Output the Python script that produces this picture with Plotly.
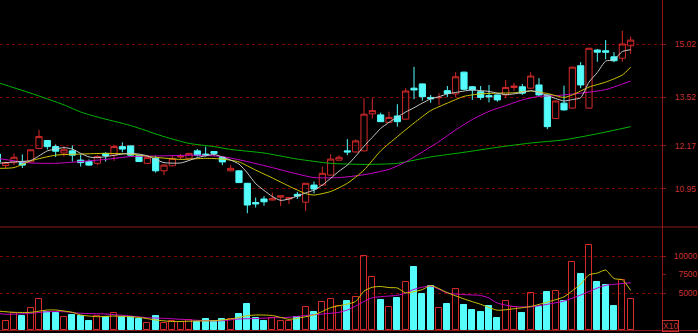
import plotly.graph_objects as go

# ---------------- data ----------------
opens = [11.93, 11.61, 11.69, 11.72, 11.71, 12.09, 12.31, 12.14, 11.96, 12.02,
         11.76, 11.72, 11.67, 11.95, 11.90, 12.14, 12.16, 11.89, 11.67, 11.81,
         11.46, 11.60, 11.85, 11.81, 12.02, 11.93, 12.00, 11.84, 11.46, 11.46,
         11.11, 10.57, 10.67, 10.64, 10.72, 10.67, 10.80, 10.58, 11.06, 11.06,
         11.34, 11.76, 12.02, 11.99, 12.02, 13.06, 13.03, 12.82, 13.00, 12.91,
         13.78, 13.90, 13.52, 13.51, 13.71, 13.62, 14.23, 13.82, 13.68, 13.57,
         13.59, 13.59, 13.80, 13.82, 13.78, 13.87, 13.59, 12.93, 13.36, 13.22,
         14.41, 13.22, 14.85, 14.83, 14.66, 14.62, 14.97]
highs = [11.99, 11.72, 11.95, 11.92, 12.06, 12.61, 12.32, 12.20, 12.16, 12.17,
         11.92, 11.78, 11.90, 11.98, 12.19, 12.26, 12.17, 11.90, 11.85, 11.89,
         11.65, 11.88, 11.93, 11.96, 12.07, 12.14, 12.01, 11.85, 11.62, 11.47,
         11.12, 10.71, 10.75, 10.85, 10.77, 10.72, 10.87, 11.12, 11.16, 11.58,
         11.93, 11.90, 12.35, 12.34, 13.50, 13.50, 13.09, 13.12, 13.33, 13.78,
         14.38, 13.91, 13.59, 13.64, 13.84, 14.23, 14.24, 13.84, 13.84, 13.87,
         13.60, 14.01, 13.93, 13.90, 14.23, 14.06, 13.60, 13.43, 13.85, 14.38,
         14.51, 14.91, 14.88, 15.13, 14.79, 15.39, 15.23]
lows = [11.65, 11.54, 11.62, 11.54, 11.69, 12.07, 12.06, 11.85, 11.86, 11.72,
        11.58, 11.60, 11.62, 11.72, 11.74, 11.98, 11.88, 11.71, 11.65, 11.41,
        11.34, 11.59, 11.78, 11.80, 11.86, 11.86, 11.88, 11.62, 11.45, 11.12,
        10.27, 10.43, 10.48, 10.63, 10.47, 10.53, 10.67, 10.33, 10.83, 11.05,
        11.33, 11.75, 11.90, 11.97, 12.01, 12.93, 12.83, 12.81, 12.70, 12.90,
        13.47, 13.43, 13.37, 13.31, 13.53, 13.52, 13.73, 13.45, 13.45, 13.38,
        13.40, 13.50, 13.71, 13.59, 13.76, 13.56, 12.63, 12.92, 13.15, 13.21,
        13.78, 13.21, 14.52, 14.59, 14.51, 14.52, 14.74]
closes = [11.71, 11.69, 11.84, 11.62, 12.05, 12.42, 12.14, 12.01, 12.05, 11.90,
          11.69, 11.62, 11.86, 11.89, 12.14, 12.07, 11.90, 11.72, 11.83, 11.46,
          11.62, 11.81, 11.86, 11.95, 11.90, 11.89, 11.95, 11.71, 11.53, 11.13,
          10.50, 10.53, 10.59, 10.68, 10.76, 10.71, 10.75, 11.11, 10.95, 11.39,
          11.79, 11.84, 11.99, 12.30, 13.05, 13.15, 12.84, 12.96, 12.84, 13.70,
          13.73, 13.54, 13.48, 13.52, 13.63, 14.10, 13.75, 13.73, 13.52, 13.54,
          13.45, 13.80, 13.84, 13.64, 14.12, 13.59, 12.70, 13.42, 13.17, 14.37,
          13.87, 14.90, 14.79, 14.79, 14.55, 15.02, 15.13]
volumes = [2250, 1260, 2340, 1930, 2930, 4140, 2390, 2250, 1710, 2025,
           1930, 1260, 1930, 1800, 2250, 1800, 1710, 1440, 945, 1890,
           945, 1215, 1035, 1350, 1125, 1440, 1170, 1440, 1485, 2115,
           3510, 1575, 1260, 1665, 1260, 1260, 1710, 3105, 2390, 3735,
           4185, 3240, 3915, 4500, 10030, 7110, 4050, 3060, 4365, 6525,
           8460, 4905, 5985, 2925, 3465, 5535, 3330, 2655, 2475, 3240,
           1665, 3915, 3150, 2340, 5040, 3060, 5085, 5310, 3915, 9135,
           7560, 11430, 6435, 6075, 3240, 6750, 4140]

# moving-average lines (index, value)
ma5_idx = [0, 2, 4, 5, 6, 7, 8, 9, 10, 11, 12, 13, 15, 16, 17, 18, 19, 20, 22, 23,
           24, 26, 27, 28, 29, 30, 31, 32, 33, 34, 35, 36, 37, 38, 39, 40, 41, 42,
           43, 44, 45, 46, 47, 48, 49, 50, 51, 52, 53, 54, 55, 56, 57, 58, 59, 60,
           61, 62, 63, 64, 65, 66, 67, 68, 69, 70, 71, 72, 73, 74, 75, 76]
ma5_val = [11.67, 11.71, 11.75, 11.88, 12.02, 12.07, 12.11, 12.07, 11.95, 11.85,
           11.83, 11.86, 11.93, 11.95, 11.93, 11.88, 11.78, 11.69, 11.68, 11.75,
           11.83, 11.92, 11.85, 11.76, 11.65, 11.40, 11.10, 10.91, 10.74, 10.63,
           10.67, 10.75, 10.84, 10.92, 11.06, 11.25, 11.45, 11.62, 11.87, 12.15,
           12.40, 12.65, 12.82, 12.97, 13.11, 13.23, 13.36, 13.48, 13.54, 13.62,
           13.66, 13.70, 13.73, 13.71, 13.69, 13.64, 13.60, 13.62, 13.66, 13.71,
           13.66, 13.57, 13.49, 13.42, 13.46, 13.51, 13.95, 14.22, 14.54, 14.58,
           14.81, 14.86]
ma10_idx = [0, 2, 4, 7, 10, 13, 16, 19, 22, 25, 27, 29, 31, 33, 35, 37, 38, 40, 42,
            44, 46, 48, 50, 52, 54, 56, 58, 60, 62, 64, 66, 68, 69, 71, 73, 75, 76]
ma10_val = [11.53, 11.55, 11.74, 11.90, 11.93, 11.95, 11.93, 11.84, 11.78, 11.81,
            11.79, 11.71, 11.48, 11.26, 11.03, 10.82, 10.78, 10.88, 11.11, 11.48,
            12.02, 12.42, 12.80, 13.15, 13.36, 13.55, 13.62, 13.64, 13.65, 13.70,
            13.63, 13.52, 13.59, 13.81, 13.95, 14.15, 14.37]
ma20_idx = [0, 4, 7, 10, 13, 16, 20, 24, 27, 30, 33, 36, 38, 41, 44, 47, 49, 51,
            53, 55, 57, 59, 61, 63, 65, 67, 70, 73, 76]
ma20_val = [11.81, 11.68, 11.67, 11.72, 11.78, 11.86, 11.88, 11.90, 11.86, 11.72,
            11.55, 11.37, 11.27, 11.27, 11.35, 11.50, 11.71, 11.99, 12.28, 12.61,
            12.90, 13.13, 13.29, 13.45, 13.55, 13.57, 13.64, 13.74, 13.98]
ma60_idx = [0, 4, 8, 10, 12, 16, 20, 23, 26, 28, 32, 36, 40, 44, 48, 52, 56, 60,
            64, 68, 72, 76]
ma60_val = [13.94, 13.64, 13.31, 13.11, 12.97, 12.73, 12.42, 12.23, 12.14, 12.06,
            11.96, 11.79, 11.67, 11.64, 11.67, 11.85, 11.98, 12.12, 12.24, 12.33,
            12.50, 12.70]
vma5_idx = [0, 2, 4, 6, 7, 9, 10, 12, 14, 17, 19, 21, 24, 26, 28, 30, 31, 33, 35,
            36, 38, 39, 40, 42, 43, 44, 45, 46, 47, 48, 49, 51, 52, 54, 56, 58,
            60, 62, 64, 66, 68, 69, 70, 71, 72, 73, 74, 75, 76]
vma5_val = [2565, 2390, 2390, 2700, 2700, 2390, 2025, 1800, 1890, 1710, 1350, 1150,
            1215, 1255, 1485, 1930, 2025, 1960, 1450, 1580, 2050, 2500, 3030, 3500,
            3850, 5250, 5780, 5880, 5730, 5680, 5020, 5460, 6020, 5050, 4200, 3470,
            2680, 2870, 3180, 3770, 4480, 5300, 6200, 7450, 7695, 8100, 6950, 6780,
            5350]
vma10_idx = [0, 1, 4, 6, 8, 10, 13, 16, 18, 20, 22, 25, 27, 29, 31, 33, 35, 37, 39,
             41, 42, 43, 44, 45, 47, 48, 49, 50, 52, 54, 56, 58, 59, 60, 62, 64, 66,
             68, 70, 72, 73, 75, 76]
vma10_val = [2255, 2120, 2255, 2470, 2470, 2255, 2160, 1890, 1660, 1580, 1445, 1255,
             1255, 1485, 1550, 1650, 1715, 1960, 2160, 2390, 2700, 3240, 3850, 4360,
             4590, 4685, 4995, 5495, 5940, 5000, 4790, 4660, 4320, 3645, 3170, 3130,
             3470, 3915, 4725, 5670, 6035, 6280, 6385]

price_ticks = [10.95, 12.17, 13.52, 15.02]
price_tick_text = ["10.95", "12.17", "13.52", "15.02"]
vol_ticks = [5000, 7500, 10000]
# figure spaces keep the labels right-aligned like the reference
vol_tick_text = ["\u20075000", "\u20077500", "10000"]
vol_grid = [5000, 10000]

# ---------------- styling ----------------
RED = "#d42a2a"
CYAN = "#54fcfc"
GRID = "#800000"
AXIS = "#8c1616"
LABEL = "#c83232"
FONT = "Liberation Sans"

x = list(range(len(closes)))

fig = go.Figure()
fig.add_trace(go.Candlestick(
    x=x, open=opens, high=highs, low=lows, close=closes,
    increasing=dict(line=dict(color=RED, width=1), fillcolor="rgba(0,0,0,0)"),
    decreasing=dict(line=dict(color=CYAN, width=1), fillcolor=CYAN),
    whiskerwidth=0, xaxis="x", yaxis="y", hoverinfo="skip", showlegend=False))

for idx, val, col in [(ma60_idx, ma60_val, "#00b400"),
                      (ma20_idx, ma20_val, "#c800c8"),
                      (ma10_idx, ma10_val, "#cdc400"),
                      (ma5_idx, ma5_val, "#c8c8c8")]:
    fig.add_trace(go.Scatter(x=idx, y=val, mode="lines", xaxis="x", yaxis="y",
                             line=dict(color=col, width=1, shape="spline", smoothing=0.6),
                             hoverinfo="skip", showlegend=False))

up = [c >= o for o, c in zip(opens, closes)]
fig.add_trace(go.Bar(
    x=x, y=volumes, xaxis="x", yaxis="y2", width=0.74,
    marker=dict(color=["rgba(0,0,0,0)" if u else CYAN for u in up],
                line=dict(color=[RED if u else CYAN for u in up], width=1)),
    hoverinfo="skip", showlegend=False))

for idx, val, col in [(vma10_idx, vma10_val, "#c800c8"),
                      (vma5_idx, vma5_val, "#cdc400")]:
    fig.add_trace(go.Scatter(x=idx, y=val, mode="lines", xaxis="x", yaxis="y2",
                             line=dict(color=col, width=1, shape="spline", smoothing=0.6),
                             hoverinfo="skip", showlegend=False))

price_range = [9.883, 16.255]
vol_range = [0, 13920]
top_of_vol = 106 / 333

fig.update_layout(
    width=698, height=333, autosize=False,
    margin=dict(l=0, r=0, t=0, b=0),
    paper_bgcolor="#000000", plot_bgcolor="#000000",
    showlegend=False, bargap=0, boxgap=0.26, boxgroupgap=0,
    xaxis=dict(domain=[0, 662 / 698], range=[0.32, 79.76], showgrid=False,
               zeroline=False, showticklabels=False, ticks="", showline=False,
               rangeslider=dict(visible=False), fixedrange=True),
    yaxis=dict(domain=[top_of_vol, 1], range=price_range, side="right", anchor="x",
               tickvals=price_ticks, ticktext=price_tick_text,
               tickfont=dict(color=LABEL, size=8.5, family=FONT),
               ticks="outside", ticklen=3, ticklabelstandoff=7,
               tickcolor=AXIS, showline=True, linecolor=AXIS, linewidth=1,
               showgrid=True, gridcolor=GRID, griddash="dot", gridwidth=1,
               zeroline=False, fixedrange=True),
    yaxis2=dict(domain=[3 / 333, top_of_vol], range=vol_range, side="right", anchor="x",
                tickvals=vol_ticks, ticktext=vol_tick_text,
                tickfont=dict(color=LABEL, size=8.5, family=FONT),
                ticks="outside", ticklen=3, ticklabelstandoff=6,
                tickcolor=AXIS, showline=True, linecolor=AXIS, linewidth=1,
                showgrid=False, zeroline=False, fixedrange=True,
                minor=dict(tickvals=vol_grid, showgrid=True, gridcolor=GRID,
                           griddash="dot", gridwidth=1, ticks="")),
    shapes=[
        dict(type="line", xref="paper", yref="paper", x0=0, x1=1,
             y0=top_of_vol, y1=top_of_vol, line=dict(color=AXIS, width=1)),
        dict(type="line", xref="paper", yref="paper", x0=0, x1=1,
             y0=2.5 / 333, y1=2.5 / 333, line=dict(color=AXIS, width=1)),
    ],
    annotations=[
        dict(text="X10", xref="paper", yref="paper", x=670 / 698, y=7.5 / 333,
             xanchor="center", yanchor="middle", showarrow=False,
             font=dict(color=LABEL, size=8.5, family=FONT),
             bordercolor=LABEL, borderwidth=1, borderpad=0),
    ],
)

fig.write_html("out.html")
